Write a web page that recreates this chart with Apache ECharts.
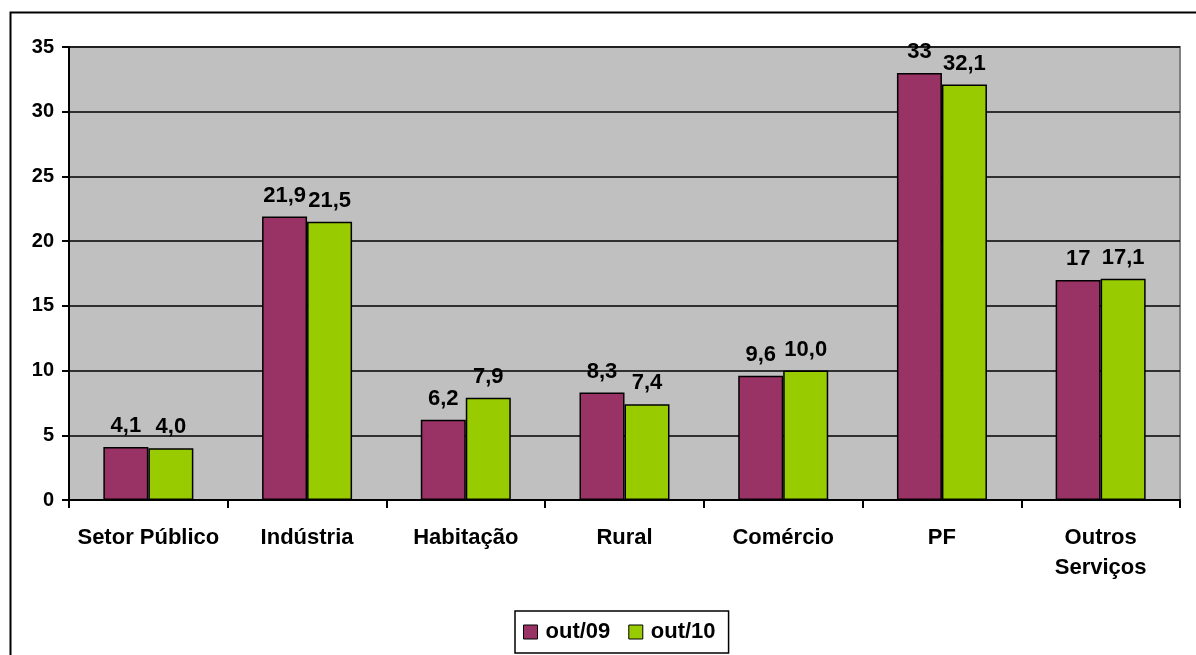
<!DOCTYPE html>
<html>
<head>
<meta charset="utf-8">
<script src="https://cdn.jsdelivr.net/npm/echarts@6/dist/echarts.min.js"></script>
<style>
  html, body { margin: 0; padding: 0; background: #fff; }
  #main { width: 1196px; height: 655px; }
</style>
</head>
<body>
<div id="main"></div>
<script>
// dados do gráfico
var categorias = ['Setor Público', 'Indústria', 'Habitação', 'Rural', 'Comércio', 'PF', 'Outros\nServiços'];
var valoresOut09 = [4.1, 21.9, 6.2, 8.3, 9.6, 33, 17];
var valoresOut10 = [4.0, 21.5, 7.9, 7.4, 10.0, 32.1, 17.1];
var rotulosOut09 = ['4,1', '21,9', '6,2', '8,3', '9,6', '33', '17'];
var rotulosOut10 = ['4,0', '21,5', '7,9', '7,4', '10,0', '32,1', '17,1'];
var ticksY = [0, 5, 10, 15, 20, 25, 30, 35];

var fonte = 'Liberation Sans, Arial, sans-serif';
var chart = echarts.init(document.getElementById('main'));

function rotulo(lista) {
  return {
    show: true,
    position: 'top',
    distance: 10,
    color: '#000',
    fontFamily: fonte,
    fontWeight: 'bold',
    fontSize: 22,
    formatter: function (p) { return lista[p.dataIndex]; }
  };
}

var option = {
  animation: false,
  backgroundColor: '#fff',
  textStyle: { fontFamily: fonte },
  graphic: [
    {
      type: 'rect',
      left: 8, top: 10,
      shape: { width: 1200, height: 660 },
      style: { fill: 'none', stroke: '#000', lineWidth: 2 },
      z: -1
    }
  ],
  grid: {
    left: 69, right: 16, top: 47, bottom: 155,
    show: true,
    backgroundColor: '#c0c0c0',
    borderColor: '#808080',
    borderWidth: 2
  },
  legend: {
    bottom: 2,
    left: 515,
    itemWidth: 14,
    itemHeight: 14,
    itemGap: 18,
    padding: [10, 13, 10, 8],
    borderColor: '#000',
    borderWidth: 1.5,
    backgroundColor: '#fff',
    textStyle: { color: '#000', fontSize: 22, fontWeight: 'bold', fontFamily: fonte, padding: [0, 0, 0, 3] },
    data: [
      { name: 'out/09', icon: 'rect', itemStyle: { borderColor: '#000', borderWidth: 1 } },
      { name: 'out/10', icon: 'rect', itemStyle: { borderColor: '#000', borderWidth: 1 } }
    ]
  },
  xAxis: {
    type: 'category',
    data: categorias,
    axisLine: { lineStyle: { color: '#000', width: 2 } },
    axisTick: { show: true, length: 8, lineStyle: { color: '#000', width: 2 } },
    axisLabel: {
      color: '#000', fontSize: 22, fontWeight: 'bold', fontFamily: fonte,
      margin: 23, lineHeight: 30, interval: 0
    },
    splitLine: { show: false }
  },
  yAxis: {
    type: 'value',
    min: 0, max: 35, interval: 5,
    axisLine: { show: true, lineStyle: { color: '#000', width: 2 } },
    axisTick: { show: true, length: 7, lineStyle: { color: '#000', width: 2 } },
    axisLabel: {
      color: '#000', fontSize: 20, fontWeight: 'bold', fontFamily: fonte, margin: 15,
      formatter: function (v) { return ticksY.indexOf(v) >= 0 ? String(v) : ''; }
    },
    splitLine: { show: true, lineStyle: { color: '#000', width: 1.5 } }
  },
  series: [
    {
      name: 'out/09',
      type: 'bar',
      data: valoresOut09,
      barWidth: 45,
      barGap: '0%',
      itemStyle: { color: '#993366', borderColor: '#000', borderWidth: 1.5 },
      label: rotulo(rotulosOut09)
    },
    {
      name: 'out/10',
      type: 'bar',
      data: valoresOut10,
      barWidth: 45,
      barGap: '0%',
      itemStyle: { color: '#99cc00', borderColor: '#000', borderWidth: 1.5 },
      label: rotulo(rotulosOut10)
    }
  ]
};

chart.setOption(option);
</script>
</body>
</html>
